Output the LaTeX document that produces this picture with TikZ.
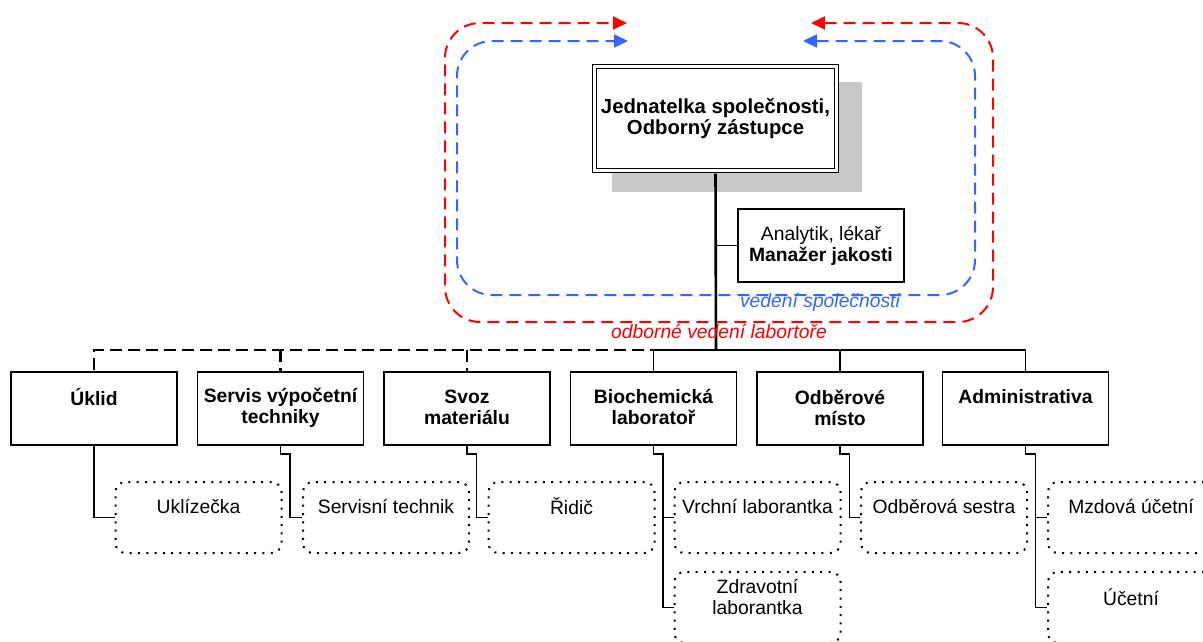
\documentclass[tikz,border=0pt]{standalone}
\usepackage{fontspec}
\setmainfont{Liberation Sans}
\usetikzlibrary{arrows.meta}
\definecolor{lred}{RGB}{255,0,0}
\definecolor{lblue}{RGB}{51,102,255}
\definecolor{shadowgray}{RGB}{200,200,200}
\begin{document}
\begin{tikzpicture}[x=1pt,y=-1pt,
  sbox/.style={draw, line width=1.5pt, minimum width=166pt, minimum height=73pt, inner sep=0pt, fill=white},
  dbox/.style={draw, line width=2pt, dash pattern=on 2pt off 6.3pt, rounded corners=10pt, minimum width=166pt, minimum height=71pt, inner sep=0pt},
  btxt/.style={font=\bfseries\fontsize{19.3}{21}\selectfont, align=center, inner sep=0pt},
  rtxt/.style={font=\fontsize{19.3}{21}\selectfont, align=center, inner sep=0pt},
  conn/.style={line width=1.5pt},
  dconn/.style={line width=2.4pt, dash pattern=on 12pt off 6pt},
  loop/.style={line width=2pt, dash pattern=on 12pt off 7pt, rounded corners=35pt, {Triangle[length=14pt,width=13pt]}-{Triangle[length=14pt,width=13pt]}},
  looplabel/.style={font=\itshape\fontsize{19.3}{21}\selectfont, inner sep=0pt}
]
\useasboundingbox (0,0) rectangle (1203,641);

% loops
\coordinate (rs) at (811,23);
\coordinate (re) at (627,23);
\coordinate (bs) at (803,41);
\coordinate (be) at (628,41);
\draw[loop, lred] (rs) -- (993,23) -- (993,322) -- (445,322) -- (445,23) -- (re);
\draw[loop, lblue] (bs) -- (975,41) -- (975,295) -- (457,295) -- (457,41) -- (be);

% shadow and top box
\fill[shadowgray] (612,82) rectangle (862,192);
\node[draw, double, double distance=2.6pt, line width=1.3pt, fill=white, minimum width=242pt, minimum height=104pt, inner sep=0pt, btxt, font=\bfseries\fontsize{20.3}{21}\selectfont] (top) at (715.5,118.5) {Jednatelka společnosti,\\Odborný zástupce};

\node[sbox, rtxt] (analytik) at (821,245.5) {Analytik, lékař\\\textbf{Manažer jakosti}};

\coordinate (hub) at (716,350);

% department boxes
\node[sbox] (uklid) at (94,408.5) {};
\node[sbox] (servis) at (280.5,408.5) {};
\node[sbox] (svoz) at (467,408.5) {};
\node[sbox] (bio) at (653.5,408.5) {};
\node[sbox] (odb) at (840,408.5) {};
\node[sbox] (admin) at (1025.5,408.5) {};

\node[btxt] (t-uklid) at (94,397) {Úklid};
\node[btxt] (t-servis) at (280.5,407.5) {Servis výpočetní\\techniky};
\node[btxt] (t-svoz) at (467,407.5) {Svoz\\materiálu};
\node[btxt] (t-bio) at (653.5,407.5) {Biochemická\\laboratoř};
\node[btxt] (t-odb) at (840,407.5) {Odběrové\\místo};
\node[btxt] (t-admin) at (1025.5,397) {Administrativa};

% staff boxes
\node[dbox] (uklizecka) at (198.5,517.5) {};
\node[dbox] (servtech) at (386,517.5) {};
\node[dbox] (ridic) at (571.5,517.5) {};
\node[dbox] (vrchni) at (757.5,517.5) {};
\node[dbox] (odbsestra) at (944,517.5) {};
\node[dbox] (mzdova) at (1131,517.5) {};
\node[dbox] (zdrav) at (757.5,607.5) {};
\node[dbox] (ucetni) at (1131,607.5) {};

\node[rtxt] (t-uklizecka) at (198.5,506) {Uklízečka};
\node[rtxt] (t-servtech) at (386,506) {Servisní technik};
\node[rtxt] (t-ridic) at (571.5,506) {Řidič};
\node[rtxt] (t-vrchni) at (757.5,506) {Vrchní laborantka};
\node[rtxt] (t-odbsestra) at (944,506) {Odběrová sestra};
\node[rtxt] (t-mzdova) at (1131,506) {Mzdová účetní};
\node[rtxt] (t-zdrav) at (757.5,597) {Zdravotní\\laborantka};
\node[rtxt] (t-ucetni) at (1131,597) {Účetní};

% main connectors
\draw[line width=2.6pt, shorten <=2.5pt] (top.south) -- (hub);
\draw[conn] (top.south |- analytik.west) -- (analytik.west);
\draw[dconn] (hub) -| (uklid.north);
\draw[dconn] (servis.north |- hub) -- (servis.north);
\draw[dconn] (svoz.north |- hub) -- (svoz.north);
\draw[conn] (bio.north) |- (admin.north |- hub) -- (admin.north);
\draw[conn] (odb.north |- hub) -- (odb.north);

% sub connectors
\draw[conn] (uklid.south) |- (uklizecka.west);
\draw[conn] (servis.south) -- ++(0,8) -- ++(9.5,0) |- (servtech.west);
\draw[conn] (svoz.south) -- ++(0,8) -- ++(9.5,0) |- (ridic.west);
\draw[conn] (bio.south) -- ++(0,8) -- ++(9.5,0) coordinate (bioj) |- (zdrav.west);
\draw[conn] (bioj |- vrchni.west) -- (vrchni.west);
\draw[conn] (odb.south) -- ++(0,8) -- ++(9.5,0) |- (odbsestra.west);
\draw[conn] (admin.south) -- ++(0,8) -- ++(10,0) coordinate (admj) |- (ucetni.west);
\draw[conn] (admj |- mzdova.west) -- (mzdova.west);

% loop labels
\node[looplabel, text=lblue] (lab-blue) at (820,302) {vedení společnosti};
\node[looplabel, text=lred] (lab-red) at (719,331) {odborné vedení labortoře};
\end{tikzpicture}
\end{document}
